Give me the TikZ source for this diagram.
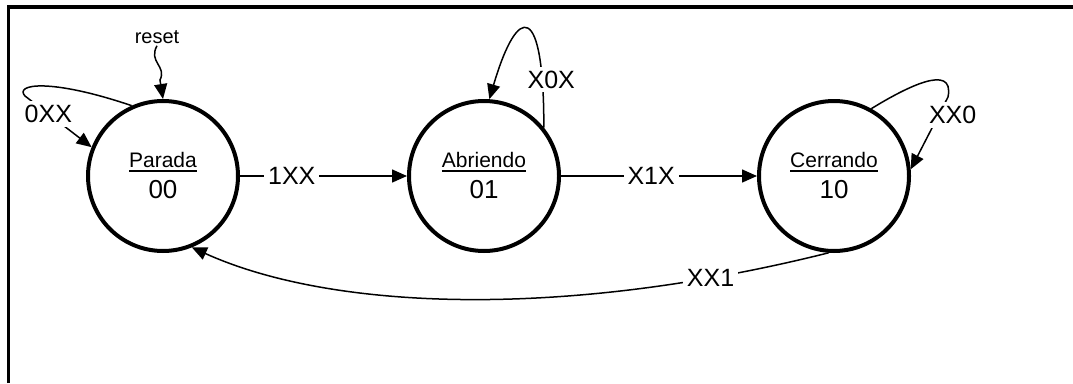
\documentclass[tikz,border=0pt]{standalone}
\usepackage{fontspec}
\setmainfont{Liberation Sans}
\usetikzlibrary{arrows.meta}
\newcommand{\ulname}[1]{\vtop{\hbox{#1}\kern2pt\hrule height 1.5pt}}
\tikzset{
  estado/.style={circle, draw, line width=4pt, minimum size=150pt, inner sep=0pt,
    align=center, font=\fontsize{26}{31}\selectfont},
  trans/.style={line width=1.5pt, -{Triangle[length=15pt,width=13pt]}},
  etiq/.style={fill=white, inner sep=4pt, font=\fontsize{25}{25}\selectfont},
}

\begin{document}
\begin{tikzpicture}[x=1pt,y=-1pt]
  \useasboundingbox (0,0) rectangle (1073,383);
  \draw[line width=3.5pt] (8.5,383) -- (8.5,7) -- (1073,7);
  % estados
  \node[estado] (parada) at (163,176) {{\fontsize{21}{21}\selectfont\ulname{Parada}}\\00};
  \node[estado] (abriendo) at (484,176) {{\fontsize{21}{21}\selectfont\ulname{Abriendo}}\\01};
  \node[estado] (cerrando) at (834,176) {{\fontsize{21}{21}\selectfont\ulname{Cerrando}}\\10};
  \node[inner sep=2pt, font=\fontsize{20}{20}\selectfont] (reset) at (157,37) {reset};
  % transiciones
  \draw[trans] (reset.south) .. controls (148,62) and (167,66) .. (160,80) -- (parada.north);
  \draw[trans] (parada) -- node[etiq, pos=0.31] {1XX} (abriendo);
  \draw[trans] (abriendo) -- node[etiq, pos=0.46] {X1X} (cerrando);
  \draw[trans] (parada.114) .. controls (50,78) and (14,84) .. (25,96)
     -- node[etiq, pos=0.35] {0XX} (parada.158);
  \draw[trans] (abriendo.39) .. controls (544,2) and (518,2) ..
     node[etiq, pos=0.15, xshift=9pt] {X0X} (abriendo.86);
  \draw[trans] (cerrando.61) .. controls (905,88) and (955,62) .. (948,97)
     -- node[etiq, pos=0.25, xshift=14pt] {XX0} (cerrando.5);
  \draw[trans] (cerrando.-94) .. controls (560,320) and (330,310) ..
     node[etiq, pos=0.15] {XX1} (parada.-68);
\end{tikzpicture}
\end{document}
